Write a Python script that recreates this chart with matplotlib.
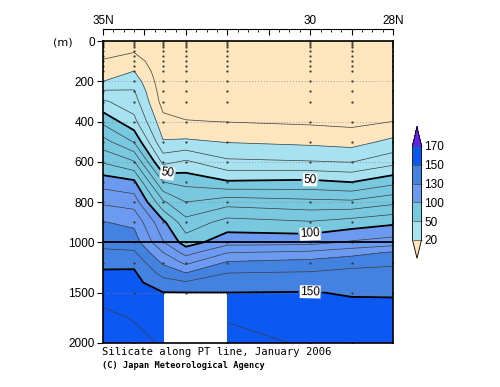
import numpy as np
import matplotlib
matplotlib.use("Agg")
import matplotlib.pyplot as plt
from matplotlib.ticker import FuncFormatter, MultipleLocator

plt.rcParams['font.family'] = ['Liberation Sans', 'DejaVu Sans']

# ── data: silicate (umol/kg) along the PT line ─────────
lats = [35.0, 34.25, 33.55, 33.0, 32.0, 30.0, 29.0, 28.0]
depths = [0, 50, 100, 150, 200, 250, 300, 400, 500, 600, 700, 800, 900,
          1000, 1100, 1200, 1300, 1400, 1500, 1750, 2000]

si_35   = [2, 6, 11, 15.5, 20, 31.4, 41.4, 57.6, 73.9, 89.1, 105.6, 118.4, 130.4,
           136.4, 142.1, 147.3, 151.2, 153.8, 156.4, 162.5, 165]
si_3425 = [3, 9.3, 14.7, 20.1, 25.7, 30.8, 34.5, 43, 59.3, 80.9, 102, 115.7, 127.8,
           135, 141.3, 147.6, 151.2, 153, 154.8, 159.4, 163]
si_3355 = [1.5, 2, 2.5, 3, 3.5, 4.5, 6, 13.2, 20.8, 37, 60, 81.7, 102.3,
           110.8, 120, 128.3, 136.2, 143.6, 150.3, 155, 159]
si_33   = [1.5, 2, 2.5, 3, 3.5, 4, 5, 10.5, 21.6, 41.7, 57, 70.1, 83.5,
           95.3, 106.2, 117.6, 129.6, 141.2, 150.2, np.nan, np.nan]
si_32   = [1.5, 2, 2.5, 3, 3.5, 4, 5, 9.8, 19.5, 31.9, 51.2, 75.9, 93.8,
           106.3, 119.5, 131.1, 139.7, 145, 150.1, 158.6, 166]
si_30   = [1.5, 2, 2.5, 3, 3.5, 4, 5, 8.5, 17.7, 30.6, 52.4, 73, 90.9,
           106.7, 122, 133.5, 140.6, 145.6, 150.4, 154.5, 158]
si_29   = [1.5, 2, 2.5, 3, 3.5, 4, 5, 7.5, 16.1, 29.7, 49.8, 72.2, 94.3,
           111.3, 126, 136.8, 142.2, 145.8, 149.3, 153.5, 156]
si_28   = [1.5, 2, 2.5, 3, 3.5, 4, 5, 10.1, 22.5, 36.5, 57, 77.6, 97.8,
           114.5, 131, 138.5, 142.5, 145.7, 149.3, 153, 155]

# sampling depths and the deepest sample per station
obs_depths = [0, 10, 20, 30, 50, 75, 100, 125, 150, 200, 250, 300, 400, 500,
              600, 700, 800, 900, 1000, 1200, 1500, 2000]
station_bottom = [2000, 2000, 1500, 1500, 2000, 2000, 2000, 2000]

levels = [20, 50, 100, 130, 150, 170]
fill_colors = ['#fde5bd', '#a8e2f0', '#78c8e0', '#6c9af0', '#4482e2', '#0c58f2', '#6424e6']
line_levels = list(range(10, 170, 10))
major_levels = [50, 100, 150]
cbar_ticks = [20, 50, 100, 130, 150, 170]
lat_ticks = [35, 34, 33, 32, 31, 30, 29, 28]
lat_labels = {35: '35N', 30: '30', 28: '28N'}
depth_ticks = [0, 200, 400, 600, 800, 1000, 1500, 2000]

silicate = np.ma.masked_invalid(np.array([si_35, si_3425, si_3355, si_33,
                                          si_32, si_30, si_29, si_28]).T)


# depth axis: 0-1000 m gets twice the room of 1000-2000 m
def fwd(d):
    d = np.asarray(d, dtype=float)
    return np.where(d <= 1000, d, 1000 + (d - 1000) / 2)


def inv(t):
    t = np.asarray(t, dtype=float)
    return np.where(t <= 1000, t, 1000 + (t - 1000) * 2)


fig = plt.figure(figsize=(5, 3.87), dpi=100)
ax = fig.add_axes([0.206, 0.1137, 0.58, 0.780])
ax.set_yscale('function', functions=(fwd, inv))

cf = ax.contourf(lats, depths, silicate, levels=levels, colors=fill_colors,
                 extend='both', corner_mask=False)
thin = [v for v in line_levels if v not in major_levels]
ax.contour(lats, depths, silicate, levels=thin, colors='#3c3c3c', linewidths=0.5,
           corner_mask=False)
cs = ax.contour(lats, depths, silicate, levels=major_levels, colors='k',
                linewidths=1.3, corner_mask=False)
lbls = ax.clabel(cs, fmt='%d', fontsize=8.5, inline=True, inline_spacing=2,
                 manual=[(33.45, 655), (30.0, 690), (30.0, 960), (30.0, 1497)])
for t in lbls:
    t.set_bbox(dict(facecolor='white', edgecolor='none', pad=0.3))

# sample points
for lat, bot in zip(lats, station_bottom):
    d = [z for z in obs_depths if z <= bot]
    ax.plot([lat] * len(d), d, linestyle='none', marker='o', ms=0.6,
            color='#333333', zorder=2.5)

ax.axhline(1000, color='k', lw=1.3, zorder=3)

ax.set_xlim(35, 28)
ax.set_ylim(2000, 0)
ax.set_yticks(depth_ticks)
ax.set_yticklabels([str(v) for v in depth_ticks])
ax.yaxis.grid(True, linestyle=(0, (1, 2.5)), color='#8a8a8a', linewidth=0.6)
ax.tick_params(axis='y', direction='out', length=4, width=0.8, labelsize=8.5, pad=2)
ax.tick_params(axis='x', which='both', bottom=False, top=False, labelbottom=False)
for s in ax.spines.values():
    s.set_linewidth(1.2)

# latitude axis floating above the box
secax = ax.secondary_xaxis(1 + 12.5 / 302)
secax.set_xticks(lat_ticks)
secax.xaxis.set_major_formatter(FuncFormatter(lambda v, p: lat_labels.get(int(round(v)), '')))
secax.xaxis.set_minor_locator(MultipleLocator(0.25))
secax.tick_params(which='major', direction='in', length=4, width=0.8, labelsize=8.5, pad=1.5)
secax.tick_params(which='minor', direction='in', length=2.5, width=0.6)
secax.spines['top'].set_linewidth(0.8)

# colour bar (axes height includes the two end triangles)
cax = fig.add_axes([0.825, 0.3326, 0.018, 0.340])
cb = fig.colorbar(cf, cax=cax, ticks=cbar_ticks, extendfrac=(0.195, 0.205),
                  drawedges=True)
cb.ax.tick_params(labelsize=8.5, length=0, pad=2)
cb.outline.set_linewidth(0.6)
cb.dividers.set_linewidth(0.5)
cb.dividers.set_color('#444444')

fig.text(62.5 / 500, 1 - 42.5 / 387, '(m)', ha='center', va='center', fontsize=8,
         family='DejaVu Sans')
fig.text(102.5 / 500, 1 - 352 / 387, 'Silicate along PT line, January 2006',
         family='DejaVu Sans Mono', fontsize=7.6, ha='left', va='center')
fig.text(102.5 / 500, 1 - 365.5 / 387, '(C) Japan Meteorological Agency',
         family='DejaVu Sans Mono', fontsize=6.2, fontweight='bold', ha='left', va='center')

fig.savefig('out.png', dpi=100)
